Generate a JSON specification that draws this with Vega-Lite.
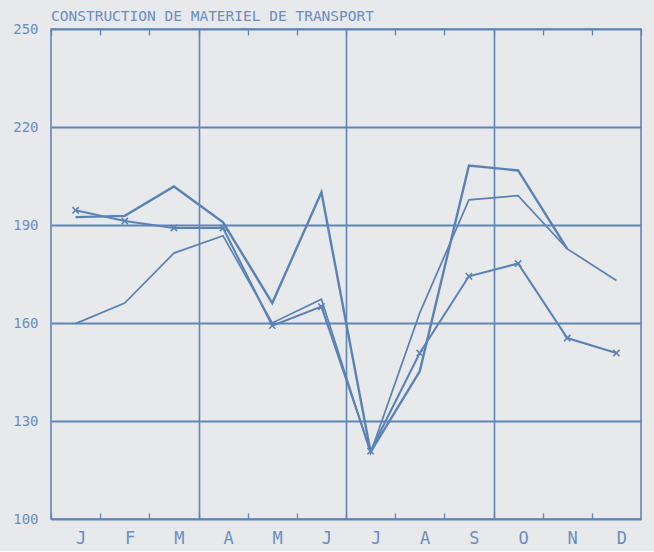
{
  "$schema": "https://vega.github.io/schema/vega-lite/v6.json",
  "width": 590,
  "height": 490,
  "padding": {"left": 12, "top": 8, "right": 12, "bottom": 5},
  "background": "#e8e9eb",
  "title": {
    "text": "CONSTRUCTION DE MATERIEL DE TRANSPORT",
    "anchor": "start",
    "frame": "group",
    "font": "DejaVu Sans Mono",
    "fontSize": 14.5,
    "fontWeight": "normal",
    "color": "#6a8ebf",
    "offset": 2,
    "dy": 4
  },
  "config": {
    "view": {"stroke": "#5f86b7", "strokeWidth": 1.6},
    "axis": {
      "domain": false,
      "labelFont": "DejaVu Sans Mono",
      "labelColor": "#6a8ebf",
      "tickColor": "#5f86b7",
      "gridColor": "#5f86b7"
    }
  },
  "data": {
    "values": [
      {"month": 1, "series": "s1", "value": 192.4},
      {"month": 2, "series": "s1", "value": 192.8},
      {"month": 3, "series": "s1", "value": 201.8},
      {"month": 4, "series": "s1", "value": 190.8},
      {"month": 5, "series": "s1", "value": 166.1},
      {"month": 6, "series": "s1", "value": 200.0},
      {"month": 7, "series": "s1", "value": 120.5},
      {"month": 8, "series": "s1", "value": 145.2},
      {"month": 9, "series": "s1", "value": 208.2},
      {"month": 10, "series": "s1", "value": 206.7},
      {"month": 11, "series": "s1", "value": 182.7},
      {"month": 1, "series": "s2", "value": 194.5},
      {"month": 2, "series": "s2", "value": 191.2},
      {"month": 3, "series": "s2", "value": 189.1},
      {"month": 4, "series": "s2", "value": 189.1},
      {"month": 5, "series": "s2", "value": 159.2},
      {"month": 6, "series": "s2", "value": 165.0},
      {"month": 7, "series": "s2", "value": 120.8},
      {"month": 8, "series": "s2", "value": 150.8},
      {"month": 9, "series": "s2", "value": 174.3},
      {"month": 10, "series": "s2", "value": 178.2},
      {"month": 11, "series": "s2", "value": 155.4},
      {"month": 12, "series": "s2", "value": 150.8},
      {"month": 1, "series": "s3", "value": 159.8},
      {"month": 2, "series": "s3", "value": 166.1},
      {"month": 3, "series": "s3", "value": 181.4},
      {"month": 4, "series": "s3", "value": 186.7},
      {"month": 5, "series": "s3", "value": 160.0},
      {"month": 6, "series": "s3", "value": 167.3},
      {"month": 7, "series": "s3", "value": 120.2},
      {"month": 8, "series": "s3", "value": 163.1},
      {"month": 9, "series": "s3", "value": 197.7},
      {"month": 10, "series": "s3", "value": 199.0},
      {"month": 11, "series": "s3", "value": 182.7},
      {"month": 12, "series": "s3", "value": 173.0}
    ]
  },
  "resolve": {"axis": {"x": "independent"}},
  "layer": [
    {
      "mark": {"type": "line", "color": "#5b82b5", "strokeJoin": "miter"},
      "encoding": {
        "x": {
          "field": "month", "type": "quantitative",
          "scale": {"domain": [0.5, 12.5], "nice": false, "zero": false},
          "axis": {
            "orient": "bottom",
            "title": null,
            "values": [0.5, 1.5, 2.5, 3.5, 4.5, 5.5, 6.5, 7.5, 8.5, 9.5, 10.5, 11.5],
            "labelExpr": "['J','F','M','A','M','J','J','A','S','O','N','D'][round(datum.value - 0.5)]",
            "labelOffset": 29.5,
            "labelFontSize": 17,
            "labelPadding": 17,
            "tickSize": -6,
            "tickWidth": 1.3,
            "grid": false,
            "labelFlush": false,
            "labelOverlap": false
          }
        },
        "y": {
          "field": "value", "type": "quantitative",
          "scale": {"domain": [100, 250], "nice": false, "zero": false},
          "axis": {
            "title": null,
            "values": [100, 130, 160, 190, 220, 250],
            "ticks": false,
            "grid": true,
            "gridWidth": 1.8,
            "labelFontSize": 14,
            "labelPadding": 13
          }
        },
        "detail": {"field": "series"},
        "strokeWidth": {
          "field": "series", "type": "nominal",
          "scale": {"domain": ["s1", "s2", "s3"], "range": [2.4, 1.7, 1.1]},
          "legend": null
        }
      }
    },
    {
      "transform": [{"filter": "datum.series === 's2'"}],
      "mark": {
        "type": "point",
        "shape": "M-1,-1L1,1M1,-1L-1,1",
        "filled": false,
        "size": 40,
        "strokeWidth": 1.6,
        "color": "#5b82b5",
        "opacity": 1
      },
      "encoding": {
        "x": {
          "field": "month", "type": "quantitative",
          "scale": {"domain": [0.5, 12.5], "nice": false, "zero": false},
          "axis": {
            "orient": "top",
            "title": null,
            "values": [0.5, 1.5, 2.5, 3.5, 4.5, 5.5, 6.5, 7.5, 8.5, 9.5, 10.5, 11.5, 12.5],
            "labels": false,
            "tickSize": -6,
            "tickWidth": 1.3,
            "grid": true,
            "gridWidth": 1.6,
            "gridOpacity": {
              "condition": {"test": "datum.value === 3.5 || datum.value === 6.5 || datum.value === 9.5", "value": 1},
              "value": 0
            }
          }
        },
        "y": {
          "field": "value", "type": "quantitative",
          "scale": {"domain": [100, 250], "nice": false, "zero": false},
          "axis": {
            "title": null,
            "values": [100, 130, 160, 190, 220, 250],
            "ticks": false,
            "grid": true,
            "gridWidth": 1.8,
            "labelFontSize": 14,
            "labelPadding": 13
          }
        }
      }
    }
  ]
}
